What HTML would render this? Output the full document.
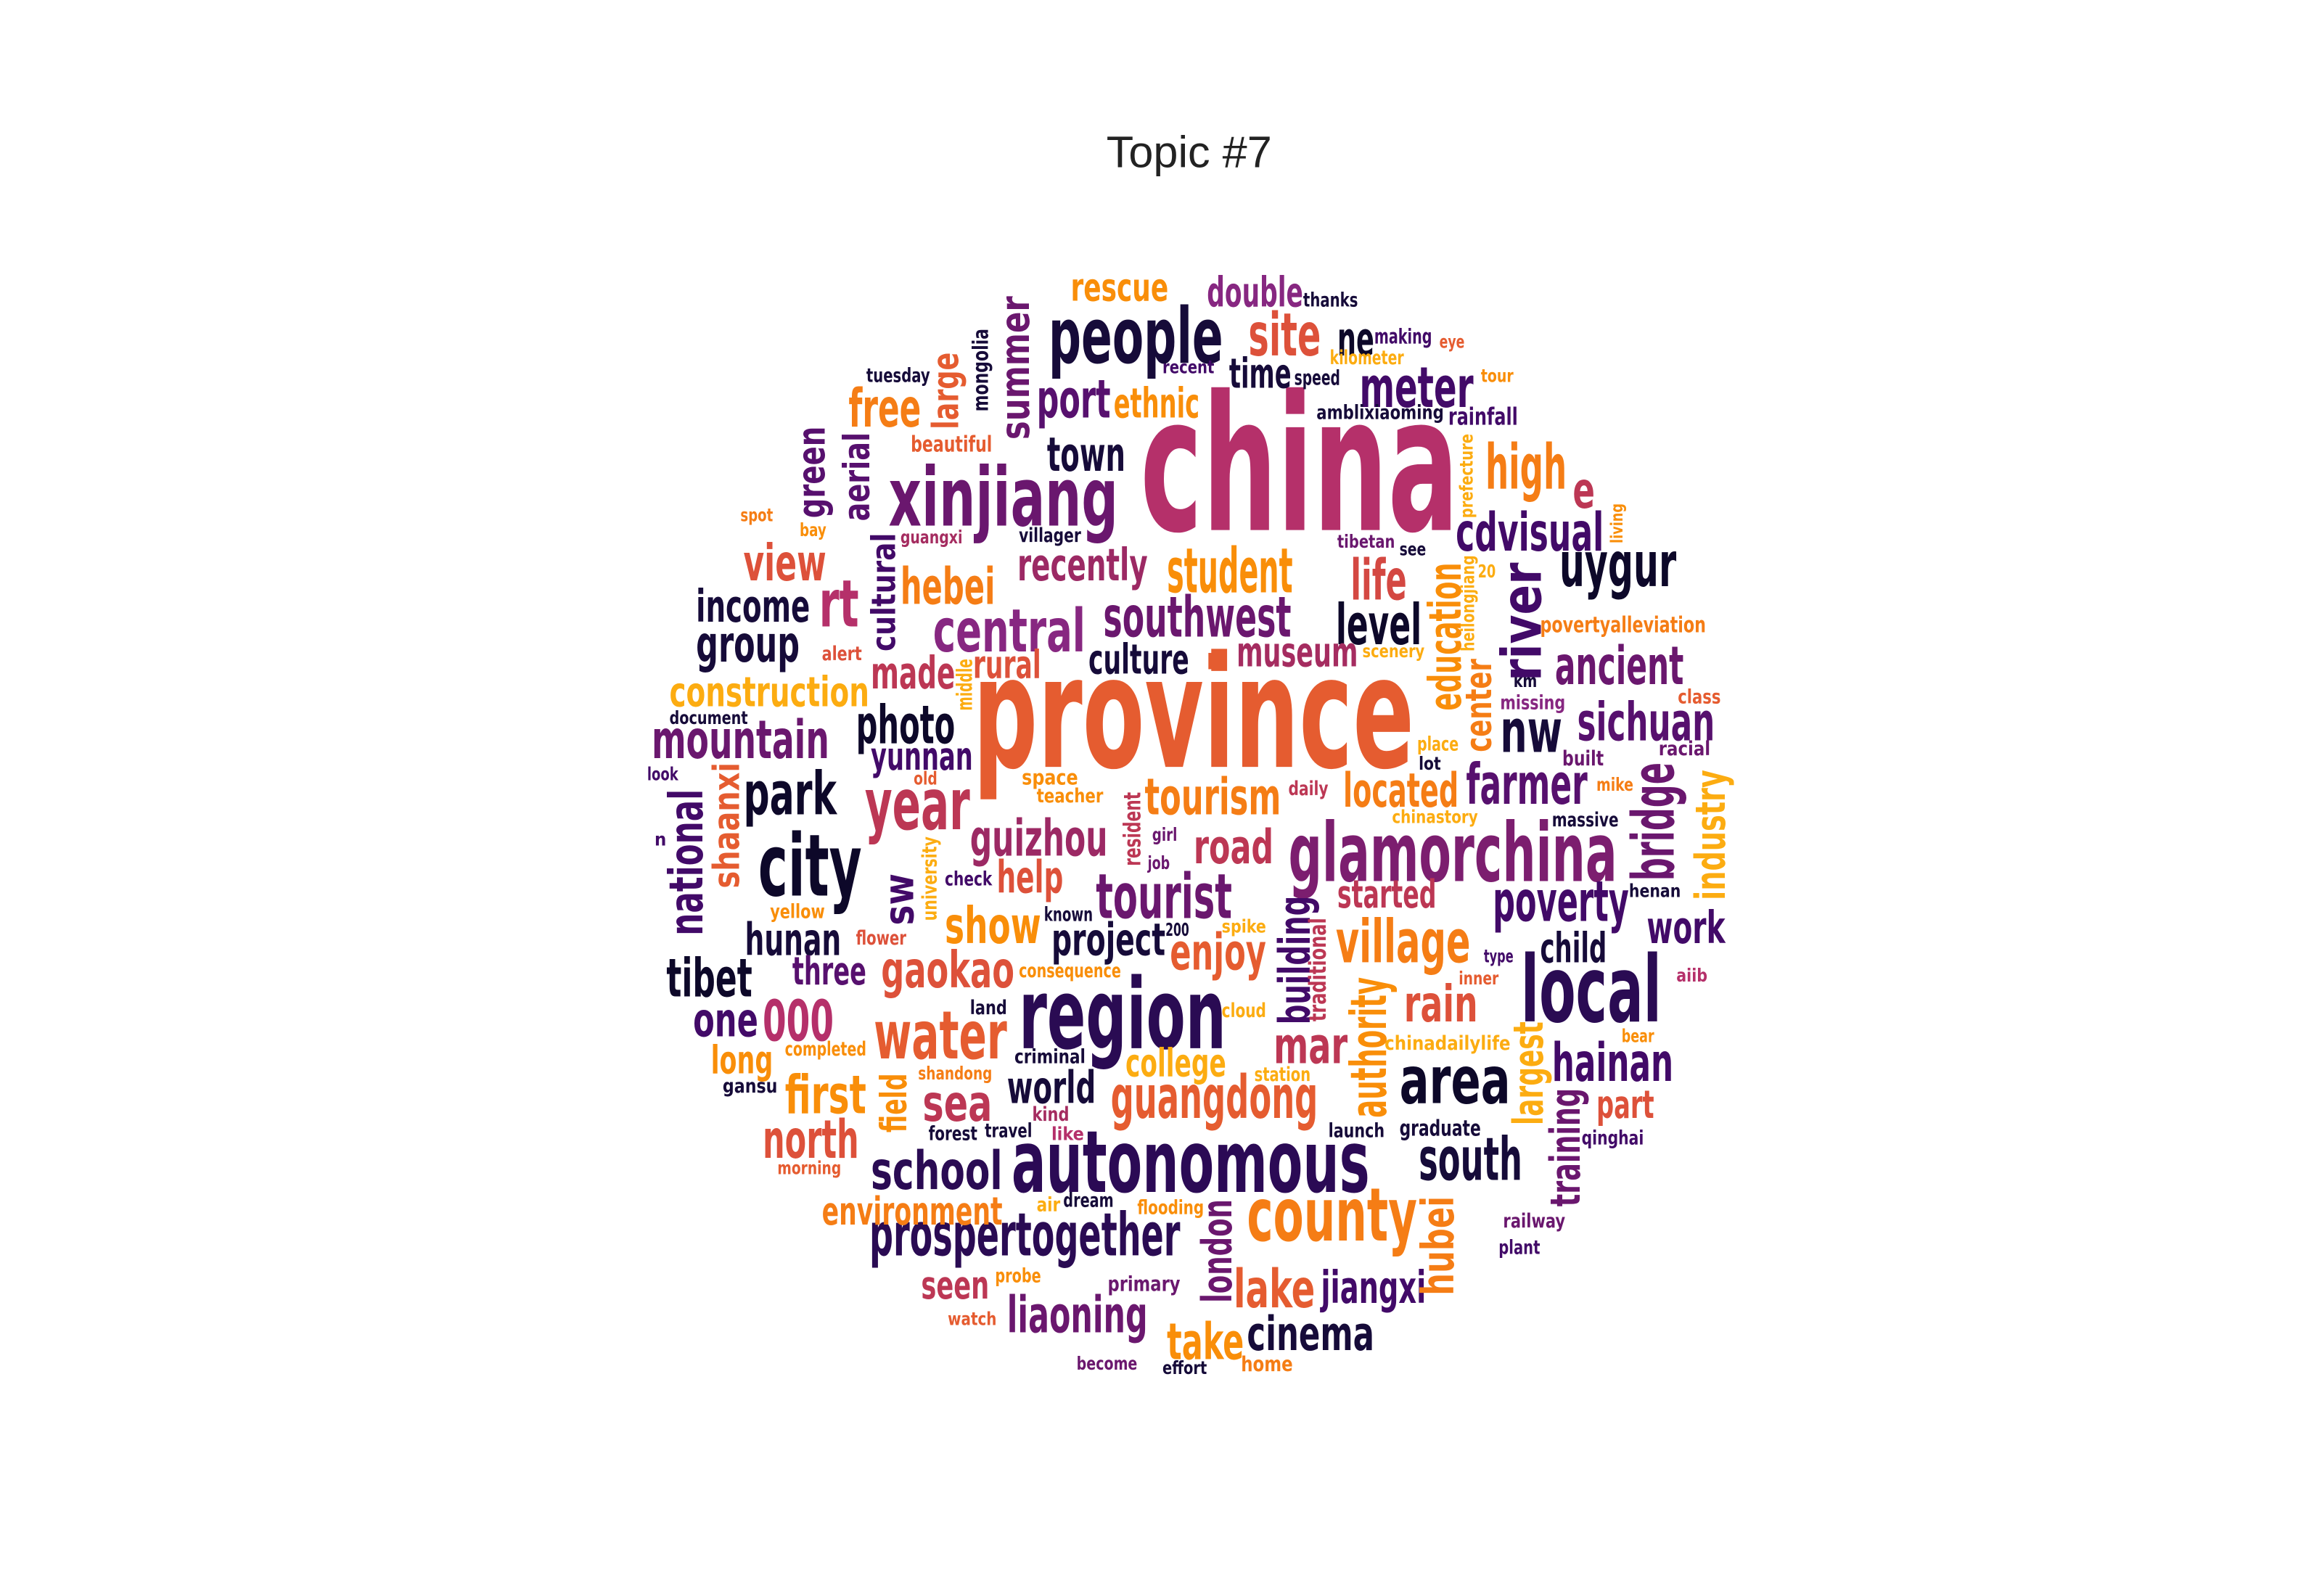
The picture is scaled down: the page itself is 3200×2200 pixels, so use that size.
<!DOCTYPE html>
<html>
<head>
<meta charset="utf-8">
<style>
html,body{margin:0;padding:0;background:#fff;}
svg{display:block;}
text.w{font-family:"Liberation Sans Narrow","DejaVu Sans Condensed","Liberation Sans",sans-serif;font-weight:bold;}
</style>
</head>
<body>
<svg id="cloud" width="3200" height="2200" viewBox="0 0 1568 1078" xmlns="http://www.w3.org/2000/svg">
<rect width="1568" height="1078" fill="#fff"/>
<text x="803" y="113" text-anchor="middle" font-family="Liberation Sans, sans-serif" font-size="30" fill="#222">Topic #7</text>
<g id="words"></g>
</svg>
<script>
// horizontal words: text, x-left, x-right, baseline, font-size, colour
const hWords = [
["china",770,985,358,127,"#b5306a"],
["province",657,955,518,105,"#e55c30"],
["region",688,828,708,66,"#2a0b53"],
["autonomous",683,925,805,58,"#2b0a55"],
["glamorchina",870,1092,595,55,"#7c1e6f"],
["local",1027,1122,690,62,"#2a0b53"],
["people",708,826,245,52,"#160b39"],
["xinjiang",600,755,355,55,"#6a176e"],
["city",512,582,605,58,"#0d0829"],
["county",842,957,838,50,"#f57d15"],
["year",584,655,560,48,"#bc3754"],
["water",590,680,715,45,"#e55c30"],
["student",788,873,400,42,"#f98e09"],
["tourist",740,832,620,42,"#6a176e"],
["central",630,733,440,40,"#872781"],
["southwest",745,872,430,38,"#6a176e"],
["village",902,993,650,40,"#f57d15"],
["guangdong",750,890,755,40,"#e55c30"],
["prospertogether",587,797,848,40,"#2a0b53"],
["area",945,1020,745,44,"#0d0829"],
["uygur",1053,1132,396,42,"#0d0829"],
["sichuan",1065,1158,500,36,"#57106e"],
["ancient",1050,1137,462,36,"#6a176e"],
["poverty",1008,1100,622,38,"#420a68"],
["farmer",990,1072,543,38,"#57106e"],
["nw",1013,1055,508,40,"#160b39"],
["hainan",1048,1130,730,36,"#420a68"],
["south",958,1028,797,40,"#160b39"],
["cdvisual",983,1083,372,36,"#420a68"],
["meter",918,995,275,38,"#420a68"],
["site",843,892,240,40,"#dd513a"],
["high",1003,1058,330,42,"#f57d15"],
["life",912,950,405,38,"#d44842"],
["level",902,960,435,38,"#0d0829"],
["located",907,985,545,32,"#f57d15"],
["museum",835,917,450,28,"#a52c60"],
["culture",735,803,455,28,"#160b39"],
["recently",687,775,392,30,"#9c2964"],
["hebei",608,672,408,34,"#f57d15"],
["town",707,760,318,32,"#160b39"],
["port",700,750,282,36,"#57106e"],
["ethnic",752,810,282,28,"#f98e09"],
["time",830,872,262,28,"#160b39"],
["speed",874,905,260,14,"#160b39"],
["ne",903,928,240,32,"#0d0829"],
["making",928,967,232,14,"#420a68"],
["double",815,880,207,28,"#872781"],
["thanks",880,917,207,13,"#160b39"],
["rescue",723,789,203,26,"#f98e09"],
["free",573,622,288,36,"#f57d15"],
["tuesday",585,628,258,13,"#160b39"],
["beautiful",615,670,305,15,"#e55c30"],
["amblixiaoming",889,975,283,13,"#160b39"],
["rainfall",978,1025,287,16,"#420a68"],
["kilometer",898,948,246,13,"#fcac11"],
["eye",972,989,235,12,"#e55c30"],
["tour",1000,1022,258,12,"#f98e09"],
["recent",785,820,252,12,"#420a68"],
["e",1062,1077,343,34,"#bc3754"],
["view",502,558,392,34,"#dd513a"],
["rt",553,580,423,44,"#b5306a"],
["income",470,547,420,30,"#160b39"],
["group",470,540,447,34,"#160b39"],
["construction",452,587,477,28,"#fcac11"],
["alert",555,582,446,13,"#dd513a"],
["made",588,645,465,30,"#bc3754"],
["rural",657,703,458,26,"#dd513a"],
["mountain",440,560,512,36,"#6a176e"],
["document",452,505,489,12,"#160b39"],
["look",437,458,527,12,"#420a68"],
["photo",578,645,502,36,"#0d0829"],
["yunnan",588,657,520,26,"#420a68"],
["park",502,565,550,40,"#0d0829"],
["old",617,633,530,12,"#e55c30"],
["space",690,728,530,14,"#f98e09"],
["teacher",700,745,542,13,"#f98e09"],
["tourism",773,865,550,34,"#f57d15"],
["daily",870,897,537,13,"#bc3754"],
["guizhou",655,748,578,34,"#9c2964"],
["road",806,860,583,32,"#bc3754"],
["girl",778,795,568,12,"#6a176e"],
["job",775,790,587,12,"#6a176e"],
["chinastory",940,998,556,12,"#fcac11"],
["massive",1048,1093,558,13,"#160b39"],
["mike",1078,1103,534,12,"#f57d15"],
["built",1055,1083,517,14,"#6a176e"],
["racial",1120,1155,510,13,"#6a176e"],
["class",1133,1162,475,13,"#e55c30"],
["missing",1013,1057,479,13,"#872781"],
["km",1022,1038,464,12,"#160b39"],
["povertyalleviation",1040,1152,427,15,"#f57d15"],
["henan",1100,1135,606,12,"#160b39"],
["work",1112,1165,637,30,"#420a68"],
["aiib",1132,1153,663,12,"#b5306a"],
["child",1040,1085,650,28,"#160b39"],
["type",1002,1022,650,12,"#420a68"],
["inner",985,1012,665,12,"#e55c30"],
["started",903,970,613,26,"#bc3754"],
["rain",948,998,690,34,"#dd513a"],
["chinadailylife",935,1020,709,13,"#fcac11"],
["bear",1095,1117,704,12,"#f98e09"],
["part",1078,1117,755,26,"#dd513a"],
["qinghai",1068,1110,773,13,"#420a68"],
["railway",1015,1057,829,13,"#6a176e"],
["plant",1012,1040,847,13,"#420a68"],
["graduate",945,1000,767,15,"#160b39"],
["launch",897,935,768,13,"#160b39"],
["mar",860,910,718,34,"#bc3754"],
["station",847,885,730,13,"#fcac11"],
["cloud",825,855,687,13,"#fcac11"],
["spike",825,855,630,12,"#fcac11"],
["enjoy",790,855,655,34,"#e55c30"],
["200",787,803,632,12,"#160b39"],
["project",710,787,645,30,"#160b39"],
["known",705,738,622,13,"#160b39"],
["help",673,718,603,30,"#dd513a"],
["check",638,670,598,13,"#420a68"],
["yellow",520,557,620,13,"#f98e09"],
["flower",578,612,638,13,"#dd513a"],
["hunan",503,568,645,30,"#160b39"],
["show",638,703,637,34,"#f98e09"],
["gaokao",595,685,667,34,"#dd513a"],
["consequence",688,757,660,13,"#f98e09"],
["land",655,680,685,13,"#160b39"],
["tibet",450,508,673,36,"#0d0829"],
["three",535,585,665,26,"#57106e"],
["one",468,512,700,32,"#420a68"],
["000",515,563,703,38,"#b5306a"],
["long",480,522,725,26,"#f98e09"],
["completed",530,585,713,13,"#f98e09"],
["criminal",685,733,718,13,"#160b39"],
["college",760,828,727,26,"#fcac11"],
["first",530,585,752,36,"#f98e09"],
["shandong",620,670,729,12,"#f57d15"],
["gansu",488,525,738,13,"#160b39"],
["sea",623,670,757,34,"#bc3754"],
["world",680,740,745,30,"#160b39"],
["kind",697,722,757,13,"#a52c60"],
["like",710,732,770,12,"#b5306a"],
["forest",627,660,770,13,"#160b39"],
["travel",665,697,768,13,"#160b39"],
["north",515,580,782,36,"#dd513a"],
["morning",525,568,793,12,"#e55c30"],
["school",588,677,803,36,"#2a0b53"],
["environment",555,677,827,26,"#f57d15"],
["air",700,716,818,13,"#fcac11"],
["dream",718,752,815,13,"#160b39"],
["flooding",768,813,820,13,"#f98e09"],
["lake",833,888,883,36,"#e55c30"],
["jiangxi",892,963,880,30,"#420a68"],
["seen",622,668,877,26,"#bc3754"],
["probe",672,703,866,13,"#f98e09"],
["primary",748,797,872,14,"#6a176e"],
["watch",640,673,895,12,"#e55c30"],
["liaoning",680,775,900,34,"#6a176e"],
["take",788,840,918,34,"#f98e09"],
["cinema",842,928,912,32,"#160b39"],
["become",727,768,925,12,"#6a176e"],
["effort",785,815,928,12,"#160b39"],
["home",838,873,926,14,"#f57d15"],
["20",998,1010,390,12,"#fcac11"],
["tibetan",903,942,370,12,"#6a176e"],
["see",945,963,375,12,"#160b39"],
["scenery",920,962,444,12,"#fcac11"],
["place",957,985,507,13,"#fcac11"],
["lot",958,973,520,12,"#160b39"],
["spot",500,522,352,12,"#f57d15"],
["bay",540,558,362,12,"#f98e09"],
["guangxi",608,650,367,12,"#a52c60"],
["villager",688,730,366,13,"#160b39"],
["n",442,450,571,12,"#420a68"]
];
// vertical words (read bottom-to-top): text, x-left, x-right, y-top, y-bottom, colour
const vWords = [
["large",628,650,238,290,"#e55c30"],
["summer",674,698,200,297,"#6a176e"],
["mongolia",656,669,222,278,"#160b39"],
["green",537,560,288,350,"#57106e"],
["aerial",568,590,292,352,"#57106e"],
["cultural",587,607,360,440,"#420a68"],
["national",450,478,533,632,"#420a68"],
["shaanxi",480,502,515,600,"#e55c30"],
["resident",758,772,535,585,"#bc3754"],
["living",1087,1097,340,367,"#f98e09"],
["bridge",1100,1135,515,595,"#6a176e"],
["industry",1143,1168,520,608,"#fcac11"],
["largest",1020,1045,690,760,"#fcac11"],
["training",1045,1070,735,815,"#6a176e"],
["hubei",958,985,808,875,"#f57d15"],
["authority",910,940,660,755,"#f98e09"],
["building",862,888,605,692,"#420a68"],
["traditional",883,897,620,690,"#bc3754"],
["university",622,634,565,622,"#fcac11"],
["sw",595,620,590,625,"#420a68"],
["field",593,615,725,765,"#f98e09"],
["london",810,835,810,880,"#6a176e"],
["river",1012,1045,380,460,"#420a68"],
["education",963,990,380,480,"#f98e09"],
["center",988,1010,445,508,"#f57d15"],
["heilongjiang",986,997,375,440,"#fcac11"],
["prefecture",985,996,293,350,"#fcac11"],
["middle",645,658,445,480,"#fcac11"]
];
const NS = "http://www.w3.org/2000/svg";
const g = document.getElementById("words");
hWords.forEach(w => {
  const t = document.createElementNS(NS, "text");
  t.setAttribute("class", "w");
  t.setAttribute("x", w[1]);
  t.setAttribute("y", w[3]);
  t.setAttribute("font-size", w[4]);
  t.setAttribute("fill", w[5]);
  t.setAttribute("textLength", w[2] - w[1]);
  t.setAttribute("lengthAdjust", "spacingAndGlyphs");
  
  
  t.textContent = w[0];
  g.appendChild(t);
});
vWords.forEach(w => {
  const fs = (w[2] - w[1]) * 1.12;
  const bx = w[2] - fs * 0.12;
  const t = document.createElementNS(NS, "text");
  t.setAttribute("class", "w");
  t.setAttribute("x", 0);
  t.setAttribute("y", 0);
  t.setAttribute("transform", "translate(" + bx + "," + w[4] + ") rotate(-90)");
  t.setAttribute("font-size", fs);
  t.setAttribute("fill", w[5]);
  t.setAttribute("textLength", w[4] - w[3]);
  t.setAttribute("lengthAdjust", "spacingAndGlyphs");
  
  
  t.textContent = w[0];
  g.appendChild(t);
});
const sq = document.createElementNS(NS, "rect");
sq.setAttribute("x", 816); sq.setAttribute("y", 441);
sq.setAttribute("width", 10); sq.setAttribute("height", 11);
sq.setAttribute("fill", "#e55c30");


g.appendChild(sq);
</script>
</body>
</html>
